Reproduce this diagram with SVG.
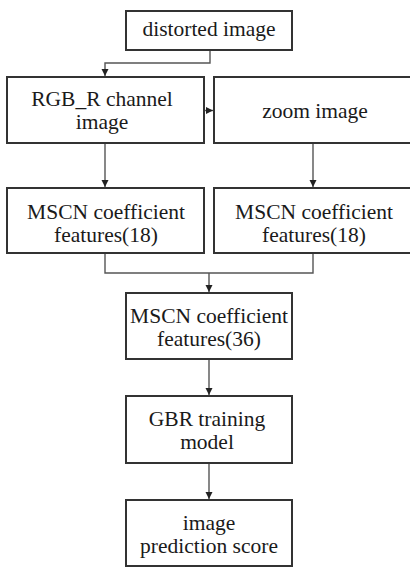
<svg xmlns="http://www.w3.org/2000/svg" width="410" height="567" viewBox="0 0 410 567">
<style>
.box{fill:#fff;stroke:#333;stroke-width:2}
.t{font-family:"Liberation Serif","Times New Roman",serif;font-size:21.5px;fill:#1a1a1a;text-anchor:middle}
.c{fill:none;stroke:#555;stroke-width:1.4}
</style>
<defs>
<marker id="ah" markerWidth="8" markerHeight="8" refX="7" refY="4" orient="auto" markerUnits="userSpaceOnUse">
<path d="M0,0.5 L7,4 L0,7.5 Z" fill="#222"/>
</marker>
</defs>
<rect width="410" height="567" fill="#fff"/>
<g id="connectors">
<path class="c" d="M210,50 V63 H105 V76" marker-end="url(#ah)"/>
<path class="c" d="M204,110.5 H213" marker-end="url(#ah)"/>
<path class="c" d="M105,143 V187" marker-end="url(#ah)"/>
<path class="c" d="M313,143 V187" marker-end="url(#ah)"/>
<path class="c" d="M105,253 V273 H313 V253"/>
<path class="c" d="M209,273 V292" marker-end="url(#ah)"/>
<path class="c" d="M209,359 V395" marker-end="url(#ah)"/>
<path class="c" d="M209,463 V499" marker-end="url(#ah)"/>
</g>
<g id="distorted">
<rect class="box" x="126" y="11" width="166" height="39"/>
<text class="t" x="209" y="36">distorted image</text>
</g>
<g id="rgb">
<rect class="box" x="7" y="77" width="197" height="66"/>
<text class="t" x="102" y="106">RGB_R channel</text>
<text class="t" x="102" y="128.5">image</text>
</g>
<g id="zoom">
<rect class="box" x="214" y="77" width="198" height="66"/>
<text class="t" x="315" y="118">zoom image</text>
</g>
<g id="mscn1">
<rect class="box" x="7" y="188" width="197" height="65"/>
<text class="t" x="106" y="219">MSCN coefficient</text>
<text class="t" x="106" y="241.5">features(18)</text>
</g>
<g id="mscn2">
<rect class="box" x="214" y="188" width="198" height="65"/>
<text class="t" x="314" y="219">MSCN coefficient</text>
<text class="t" x="314" y="241.5">features(18)</text>
</g>
<g id="mscn36">
<rect class="box" x="126" y="293" width="166" height="66"/>
<text class="t" x="209" y="323">MSCN coefficient</text>
<text class="t" x="209" y="346">features(36)</text>
</g>
<g id="gbr">
<rect class="box" x="126" y="396" width="166" height="67"/>
<text class="t" x="207" y="426">GBR training</text>
<text class="t" x="207" y="448.5">model</text>
</g>
<g id="score">
<rect class="box" x="126" y="500" width="166" height="66"/>
<text class="t" x="209" y="530">image</text>
<text class="t" x="209" y="552.5">prediction score</text>
</g>
</svg>
